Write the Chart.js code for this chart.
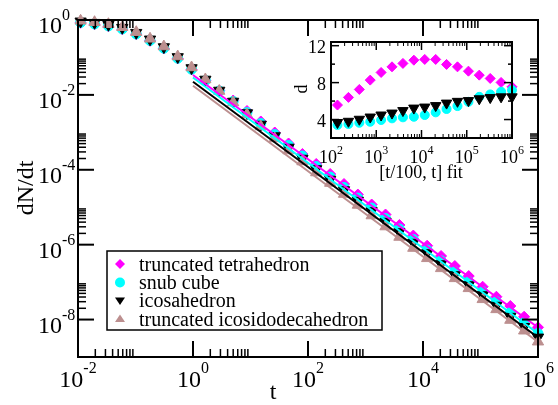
<!DOCTYPE html>
<html>
<head>
<meta charset="utf-8">
<script src="https://cdn.jsdelivr.net/npm/chart.js@4.4.1/dist/chart.umd.min.js"></script>
<style>
  html, body { margin: 0; padding: 0; background: #fff; }
  #wrap { position: relative; width: 558px; height: 405px; }
  #wrap canvas { position: absolute; left: 0; top: 0; }
  #precarga { position: absolute; left: -999px; top: 0; font-family: "Liberation Serif"; font-size: 20px; }
</style>
</head>
<body>
<span id="precarga">10 dN/dt truncated</span>
<div id="wrap">
  <canvas id="main" width="558" height="405"></canvas>
  <canvas id="inset" width="558" height="405"></canvas>
</div>
<script>
// Datos del grafico principal (dN/dt contra t)
const tiempos = [0.0111, 0.0194, 0.0338, 0.0589, 0.103, 0.179, 0.311, 0.542, 0.944, 1.64, 2.86, 4.99, 8.69, 15.1, 26.4, 45.9, 80.0,
  139, 243, 423, 736, 1280, 2230, 3890, 6780, 11800, 20600, 35800, 62400, 109000, 189000, 330000, 574000, 1000000];

const nombres = ['truncated tetrahedron', 'snub cube', 'icosahedron', 'truncated icosidodecahedron'];

const tetra = [0.842, 0.772, 0.683, 0.568, 0.418, 0.278, 0.173, 0.0937, 0.0476, 0.0242, 0.0131, 0.00708, 0.00371, 0.00195,
  9.89e-4, 5.03e-4, 2.64e-4, 1.43e-4, 7.71e-5, 4.17e-5, 2.18e-5, 1.18e-5, 6.38e-6, 3.35e-6, 1.75e-6, 9.37e-7, 4.98e-7,
  2.69e-7, 1.45e-7, 7.53e-8, 4.07e-8, 2.30e-8, 1.19e-8, 6.20e-9];
const snub = [0.857, 0.787, 0.696, 0.578, 0.425, 0.284, 0.177, 0.0954, 0.0485, 0.0242, 0.0127, 0.00665, 0.00338, 0.00172,
  8.74e-4, 4.45e-4, 2.33e-4, 1.22e-4, 6.41e-5, 3.36e-5, 1.76e-5, 9.52e-6, 4.99e-6, 2.62e-6, 1.37e-6, 7.19e-7, 3.72e-7,
  1.89e-7, 1.02e-7, 5.53e-8, 2.99e-8, 1.52e-8, 8.23e-9, 4.23e-9];
const icosa = [0.923, 0.847, 0.749, 0.623, 0.458, 0.305, 0.190, 0.103, 0.0522, 0.0258, 0.0131, 0.00666, 0.00328, 0.00162,
  7.97e-4, 3.93e-4, 2.00e-4, 1.05e-4, 5.50e-5, 2.88e-5, 1.51e-5, 7.92e-6, 4.15e-6, 2.18e-6, 1.14e-6, 5.98e-7, 3.04e-7,
  1.55e-7, 8.36e-8, 4.52e-8, 2.37e-8, 1.20e-8, 6.43e-9, 3.35e-9];
const icosido = [0.952, 0.873, 0.772, 0.642, 0.472, 0.315, 0.196, 0.106, 0.0539, 0.0258, 0.0127, 0.00626, 0.00299, 0.00143,
  6.84e-4, 3.27e-4, 1.66e-4, 8.45e-5, 4.43e-5, 2.25e-5, 1.15e-5, 6.00e-6, 3.05e-6, 1.60e-6, 8.13e-7, 4.32e-7, 2.33e-7,
  1.26e-7, 6.82e-8, 3.47e-8, 1.87e-8, 9.71e-9, 5.03e-9, 2.56e-9];

// Rectas de ajuste (extremos)
const fitT = [1, 1000000];
const fitTetra = [0.0340, 6.12e-9];
const fitSnub = [0.0291, 4.23e-9];
const fitIcosa = [0.0225, 3.31e-9];
const fitIcosido = [0.0176, 2.51e-9];

// Datos del recuadro (d contra t)
const insetT = [139, 243, 423, 736, 1280, 2230, 3890, 6780, 11800, 20600, 35800, 62400, 109000, 189000, 330000, 574000, 1000000];
const dTetra = [5.57, 6.40, 7.26, 8.27, 9.10, 9.71, 10.08, 10.43, 10.51, 10.51, 9.97, 9.71, 9.24, 8.81, 8.45, 8.02, 7.55];
const dSnub = [3.41, 3.51, 3.65, 3.76, 3.95, 4.13, 4.24, 4.30, 4.49, 4.78, 5.14, 5.46, 5.92, 6.46, 6.72, 7.01, 7.19];
const dIcosa = [3.68, 3.81, 4.03, 4.27, 4.49, 4.70, 4.97, 5.24, 5.35, 5.51, 5.78, 5.97, 6.05, 6.25, 6.38, 6.46, 6.46];

// Marcas de los ejes
const decX = [-2, 0, 2, 4, 6];
const decY = [0, -2, -4, -6, -8];
const decXInset = [2, 3, 4, 5, 6];
const ticksYInset = [4, 8, 12];

const colores = ['#ff00ff', '#00ffff', '#000000', '#bc8f8f'];
const estilos = [
  { pointStyle: 'rectRot', radius: 5.5, rotation: 0 },
  { pointStyle: 'circle', radius: 5, rotation: 0 },
  { pointStyle: 'triangle', radius: 6.5, rotation: 180 },
  { pointStyle: 'triangle', radius: 6.5, rotation: 0 }
];
const FUENTE = '"Liberation Serif", "Times New Roman", "DejaVu Serif", serif';

function linea(ctx, x1, y1, x2, y2, w) {
  ctx.lineWidth = w;
  ctx.beginPath();
  ctx.moveTo(x1, y1);
  ctx.lineTo(x2, y2);
  ctx.stroke();
}

// "10" con exponente; y = linea base del 10
function potencia(ctx, exp, x, y, size, expSize, sube, align) {
  ctx.font = size + 'px ' + FUENTE;
  const w1 = ctx.measureText('10').width;
  ctx.font = expSize + 'px ' + FUENTE;
  const w2 = ctx.measureText(exp).width;
  let x0 = x;
  if (align === 'center') x0 = x - (w1 + w2) / 2;
  if (align === 'right') x0 = x - w1 - w2;
  ctx.textAlign = 'left';
  ctx.textBaseline = 'alphabetic';
  ctx.font = size + 'px ' + FUENTE;
  ctx.fillText('10', x0, y);
  ctx.font = expSize + 'px ' + FUENTE;
  ctx.fillText(exp, x0 + w1, y - sube);
}

function marcador(ctx, i, x, y, r) {
  ctx.fillStyle = colores[i];
  ctx.beginPath();
  if (i === 0) {
    ctx.moveTo(x, y - r); ctx.lineTo(x + r, y); ctx.lineTo(x, y + r); ctx.lineTo(x - r, y);
  } else if (i === 1) {
    ctx.arc(x, y, r, 0, Math.PI * 2);
  } else if (i === 2) {
    ctx.moveTo(x - r, y - r * 0.6); ctx.lineTo(x + r, y - r * 0.6); ctx.lineTo(x, y + r * 0.9);
  } else {
    ctx.moveTo(x - r, y + r * 0.6); ctx.lineTo(x + r, y + r * 0.6); ctx.lineTo(x, y - r * 0.9);
  }
  ctx.closePath();
  ctx.fill();
}

const ejesPrincipal = {
  id: 'ejesPrincipal',
  afterDraw(chart) {
    const { ctx, chartArea: a, scales: { x, y } } = chart;
    ctx.save();
    ctx.strokeStyle = '#000';
    ctx.fillStyle = '#000';

    decX.forEach(e => {
      const base = Math.pow(10, e);
      const px = x.getPixelForValue(base);
      linea(ctx, px, a.bottom, px, a.bottom - 16, 2);
      linea(ctx, px, a.top, px, a.top + 16, 2);
      for (let m = 2; m <= 9; m++) {
        if (m * base > x.max) break;
        const pm = x.getPixelForValue(m * base);
        linea(ctx, pm, a.bottom, pm, a.bottom - 8, 1.5);
        linea(ctx, pm, a.top, pm, a.top + 8, 1.5);
      }
      ctx.fillStyle = '#000';
      potencia(ctx, String(e), px, a.bottom + 30, 24, 16, 14, 'center');
    });

    decY.forEach(e => {
      const base = Math.pow(10, e);
      const py = y.getPixelForValue(base);
      linea(ctx, a.left, py, a.left + 16, py, 2);
      linea(ctx, a.right, py, a.right - 16, py, 2);
      for (let m = 2; m <= 9; m++) {
        if (m * base > y.max) break;
        const pm = y.getPixelForValue(m * base);
        linea(ctx, a.left, pm, a.left + 8, pm, 1.5);
        linea(ctx, a.right, pm, a.right - 8, pm, 1.5);
      }
      ctx.fillStyle = '#000';
      potencia(ctx, String(e), 38, py + 13, 24, 16, 13, 'left');
    });

    ctx.lineWidth = 2;
    ctx.strokeRect(a.left, a.top, a.right - a.left, a.bottom - a.top);

    // titulos
    ctx.font = '24px ' + FUENTE;
    ctx.textAlign = 'center';
    ctx.textBaseline = 'alphabetic';
    ctx.fillText('t', 273, 399);
    ctx.save();
    ctx.translate(33, 188);
    ctx.rotate(-Math.PI / 2);
    ctx.fillText('dN/dt', 0, 0);
    ctx.restore();

    // leyenda
    ctx.fillStyle = '#fff';
    ctx.fillRect(107, 251, 275, 79);
    ctx.lineWidth = 1.5;
    ctx.strokeStyle = '#000';
    ctx.strokeRect(107, 251, 275, 79);
    const filas = [264, 282.5, 300.5, 319];
    nombres.forEach((n, i) => {
      marcador(ctx, i, 120, filas[i], 5);
      ctx.fillStyle = '#000';
      ctx.font = '20px ' + FUENTE;
      ctx.textAlign = 'left';
      ctx.fillText(n, 139, filas[i] + 6.5);
    });
    ctx.restore();
  }
};

const ejesInset = {
  id: 'ejesInset',
  beforeDatasetsDraw(chart) {
    const { ctx, chartArea: a } = chart;
    ctx.save();
    ctx.fillStyle = '#fff';
    ctx.fillRect(a.left, a.top, a.right - a.left, a.bottom - a.top);
    ctx.restore();
  },
  afterDraw(chart) {
    const { ctx, chartArea: a, scales: { x, y } } = chart;
    ctx.save();
    ctx.strokeStyle = '#000';
    ctx.fillStyle = '#000';
    decXInset.forEach(e => {
      const base = Math.pow(10, e);
      const px = x.getPixelForValue(base);
      linea(ctx, px, a.bottom, px, a.bottom - 8, 1.5);
      linea(ctx, px, a.top, px, a.top + 8, 1.5);
      for (let m = 2; m <= 9; m++) {
        if (m * base > x.max) break;
        const pm = x.getPixelForValue(m * base);
        linea(ctx, pm, a.bottom, pm, a.bottom - 4, 1);
        linea(ctx, pm, a.top, pm, a.top + 4, 1);
      }
      potencia(ctx, String(e), px, a.bottom + 25, 18, 12, 9, 'center');
    });
    for (let v = 2; v <= y.max; v += 2) {
      const py = y.getPixelForValue(v);
      const len = v % 4 === 0 ? 8 : 4;
      linea(ctx, a.left, py, a.left + len, py, 1.5);
      linea(ctx, a.right, py, a.right - len, py, 1.5);
    }
    ctx.font = '18px ' + FUENTE;
    ctx.textAlign = 'right';
    ctx.textBaseline = 'alphabetic';
    ticksYInset.forEach(v => {
      ctx.fillText(String(v), 326, y.getPixelForValue(v) + 7);
    });
    ctx.lineWidth = 2;
    ctx.strokeRect(a.left, a.top, a.right - a.left, a.bottom - a.top);

    ctx.textAlign = 'center';
    ctx.fillText('[t/100, t] fit', 421, 178);
    ctx.save();
    ctx.translate(307, 89);
    ctx.rotate(-Math.PI / 2);
    ctx.fillText('d', 0, 0);
    ctx.restore();
    ctx.restore();
  }
};

function puntos(i, xs, ys, orden) {
  return {
    label: nombres[i],
    data: xs.map((t, j) => ({ x: t, y: ys[j] })),
    showLine: false,
    pointStyle: estilos[i].pointStyle,
    pointRadius: estilos[i].radius,
    rotation: estilos[i].rotation,
    pointBackgroundColor: colores[i],
    pointBorderColor: colores[i],
    pointBorderWidth: 1,
    clip: false,
    order: orden
  };
}

function dibujar() {
  // Grafico principal
  const series = [tetra, snub, icosa, icosido];
  const ajustes = [fitTetra, fitSnub, fitIcosa, fitIcosido];
  const dsPrincipal = [];
  series.forEach((s, i) => dsPrincipal.push(puntos(i, tiempos, s, 4 - i)));
  ajustes.forEach((f, i) => {
    dsPrincipal.push({
      data: fitT.map((t, j) => ({ x: t, y: f[j] })),
      showLine: true,
      pointRadius: 0,
      borderColor: colores[i],
      borderWidth: 2,
      fill: false,
      order: 0
    });
  });

  new Chart(document.getElementById('main'), {
    type: 'scatter',
    data: { datasets: dsPrincipal },
    options: {
      responsive: false,
      animation: false,
      events: [],
      layout: { padding: { left: 78, right: 20, top: 20, bottom: 48 } },
      plugins: { legend: { display: false }, tooltip: { enabled: false } },
      scales: {
        x: { type: 'logarithmic', min: 1e-2, max: 1e6, display: false },
        y: { type: 'logarithmic', min: 1e-9, max: 1, display: false }
      }
    },
    plugins: [ejesPrincipal]
  });

  // Recuadro
  const dsInset = [
    puntos(0, insetT, dTetra, 3),
    puntos(1, insetT, dSnub, 2),
    puntos(2, insetT, dIcosa, 1)
  ];
  dsInset.forEach(d => { d.pointRadius = d.pointRadius - 0.5; });

  new Chart(document.getElementById('inset'), {
    type: 'scatter',
    data: { datasets: dsInset },
    options: {
      responsive: false,
      animation: false,
      events: [],
      layout: { padding: { left: 331, right: 46, top: 42, bottom: 267 } },
      plugins: { legend: { display: false }, tooltip: { enabled: false } },
      scales: {
        x: { type: 'logarithmic', min: 1e2, max: 1e6, display: false },
        y: { type: 'linear', min: 2, max: 12.4, display: false }
      }
    },
    plugins: [ejesInset]
  });
}

if (document.fonts && document.fonts.load) {
  Promise.all([
    document.fonts.load('24px "Liberation Serif"'),
    document.fonts.load('16px "Liberation Serif"')
  ]).then(dibujar, dibujar);
} else {
  dibujar();
}
</script>
</body>
</html>
